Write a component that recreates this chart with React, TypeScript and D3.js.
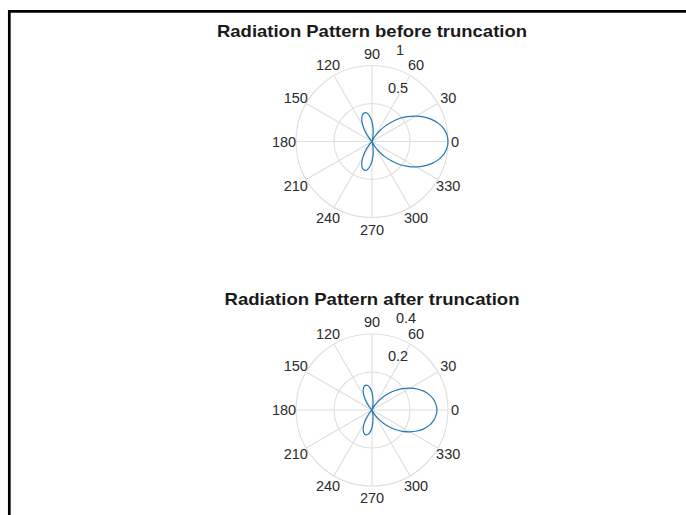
import React from "react";
import * as d3 from "d3";

const W = 686;
const H = 515;

const angleDeg: number[] = [
  0, 5, 10, 15, 20, 25, 30, 35, 40, 45, 50, 55, 60, 65, 70, 75, 80, 85, 90, 95,
  100, 105, 110, 115, 120, 125, 130, 135, 140, 145, 150, 155, 160, 165, 170,
  175, 180, 185, 190, 195, 200, 205, 210, 215, 220, 225, 230, 235, 240, 245,
  250, 255, 260, 265, 270, 275, 280, 285, 290, 295, 300, 305, 310, 315, 320,
  325, 330, 335, 340, 345, 350, 355,
];

// before truncation (rmax = 1)
const beforeR: number[] = [
  1.0, 0.99, 0.96, 0.91, 0.84, 0.76, 0.67, 0.57, 0.47, 0.36, 0.26, 0.16, 0.08,
  0.03, 0.0, 0.02, 0.08, 0.17, 0.26, 0.33, 0.38, 0.39, 0.37, 0.32, 0.24, 0.15,
  0.07, 0.02, 0.0, 0.0, 0.0, 0.0, 0.0, 0.0, 0.0, 0.0, 0.0,
  0.0, 0.0, 0.0, 0.0, 0.0, 0.0, 0.0, 0.0, 0.02, 0.07, 0.15, 0.24, 0.32, 0.37,
  0.39, 0.38, 0.33, 0.26, 0.17, 0.08, 0.02, 0.0, 0.03, 0.08, 0.16, 0.26, 0.36,
  0.47, 0.57, 0.67, 0.76, 0.84, 0.91, 0.96, 0.99,
];

// after truncation (rmax = 0.4)
const afterR: number[] = [
  0.342, 0.338, 0.328, 0.312, 0.29, 0.262, 0.23, 0.196, 0.16, 0.123, 0.088,
  0.054, 0.026, 0.008, 0.0, 0.007, 0.028, 0.059, 0.092, 0.117, 0.131, 0.134,
  0.127, 0.11, 0.083, 0.052, 0.024, 0.007, 0.0, 0.0, 0.0, 0.0, 0.0, 0.0, 0.0,
  0.0, 0.0,
  0.0, 0.0, 0.0, 0.0, 0.0, 0.0, 0.0, 0.0, 0.007, 0.024, 0.052, 0.083, 0.11,
  0.127, 0.134, 0.131, 0.117, 0.092, 0.059, 0.028, 0.007, 0.0, 0.008, 0.026,
  0.054, 0.088, 0.123, 0.16, 0.196, 0.23, 0.262, 0.29, 0.312, 0.328, 0.338,
];

const angleTicks: number[] = [0, 30, 60, 90, 120, 150, 180, 210, 240, 270, 300, 330];
const beforeRings: number[] = [0.5, 1];
const afterRings: number[] = [0.2, 0.4];
const beforeRingLabels: string[] = ["0.5", "1"];
const afterRingLabels: string[] = ["0.2", "0.4"];

const FONT = "'Liberation Sans', Arial, Helvetica, sans-serif";
const GRID = "#dedede";
const TEXT = "#2b2b2b";
const LINE = "#2278b5";

interface PolarProps {
  cx: number;
  cy: number;
  radius: number;
  rmax: number;
  rings: number[];
  ringLabels: string[];
  values: number[];
  title: string;
  titleY: number;
  titleWidth: number;
}

function PolarPlot({ cx, cy, radius, rmax, rings, ringLabels, values, title, titleY, titleWidth }: PolarProps) {
  const rScale = d3.scaleLinear().domain([0, rmax]).range([0, radius]);
  const pts: [number, number][] = angleDeg.map((a, i) => [a, values[i]]);
  const line = d3
    .lineRadial<[number, number]>()
    .angle((d) => Math.PI / 2 - (d[0] * Math.PI) / 180)
    .radius((d) => rScale(d[1]))
    .curve(d3.curveCatmullRomClosed.alpha(0.5));
  const labelR = radius + 12;
  return (
    <g>
      <text
        x={cx}
        y={titleY}
        textAnchor="middle"
        fontFamily={FONT}
        fontWeight="bold"
        fontSize={17}
        textLength={titleWidth}
        lengthAdjust="spacingAndGlyphs"
        fill="#1a1a1a"
      >
        {title}
      </text>
      <g transform={`translate(${cx},${cy})`}>
        {angleTicks.map((a) => {
          const t = (a * Math.PI) / 180;
          return (
            <line
              key={"s" + a}
              x1={0}
              y1={0}
              x2={radius * Math.cos(t)}
              y2={-radius * Math.sin(t)}
              stroke={GRID}
              strokeWidth={1.1}
            />
          );
        })}
        {rings.map((r) => (
          <circle key={"c" + r} r={rScale(r)} fill="none" stroke={GRID} strokeWidth={1.1} />
        ))}
        <path d={line(pts) || ""} fill="none" stroke={LINE} strokeWidth={1.2} />
        {angleTicks.map((a) => {
          const t = (a * Math.PI) / 180;
          return (
            <text
              key={"t" + a}
              x={labelR * Math.cos(t) + (a === 0 ? -5 : 0)}
              y={-labelR * Math.sin(t)}
              textAnchor="middle"
              dominantBaseline="central"
              fontFamily={FONT}
              fontSize={14.5}
              fill={TEXT}
            >
              {a}
            </text>
          );
        })}
        {rings.map((r, i) => {
          const pr = rScale(r);
          return (
            <text
              key={"r" + r}
              x={0.21 * pr + 8}
              y={-pr - 16}
              textAnchor="start"
              dominantBaseline="central"
              fontFamily={FONT}
              fontSize={14.5}
              fill={TEXT}
            >
              {ringLabels[i]}
            </text>
          );
        })}
      </g>
    </g>
  );
}

export default function App() {
  return (
    <svg
      width={W}
      height={H}
      style={{ position: "absolute", left: 0, top: 0, background: "#fff" }}
    >
      <rect x={0} y={0} width={W} height={H} fill="#fff" />
      <path d={`M9.3,${H} L9.3,11.3 L${W},11.3`} fill="none" stroke="#000" strokeWidth={2.7} />
      <PolarPlot
        cx={372}
        cy={141.5}
        radius={76}
        rmax={1}
        rings={beforeRings}
        ringLabels={beforeRingLabels}
        values={beforeR}
        title="Radiation Pattern before truncation"
        titleY={36.5}
        titleWidth={310}
      />
      <PolarPlot
        cx={372}
        cy={410}
        radius={76}
        rmax={0.4}
        rings={afterRings}
        ringLabels={afterRingLabels}
        values={afterR}
        title="Radiation Pattern after truncation"
        titleY={305}
        titleWidth={295}
      />
    </svg>
  );
}
